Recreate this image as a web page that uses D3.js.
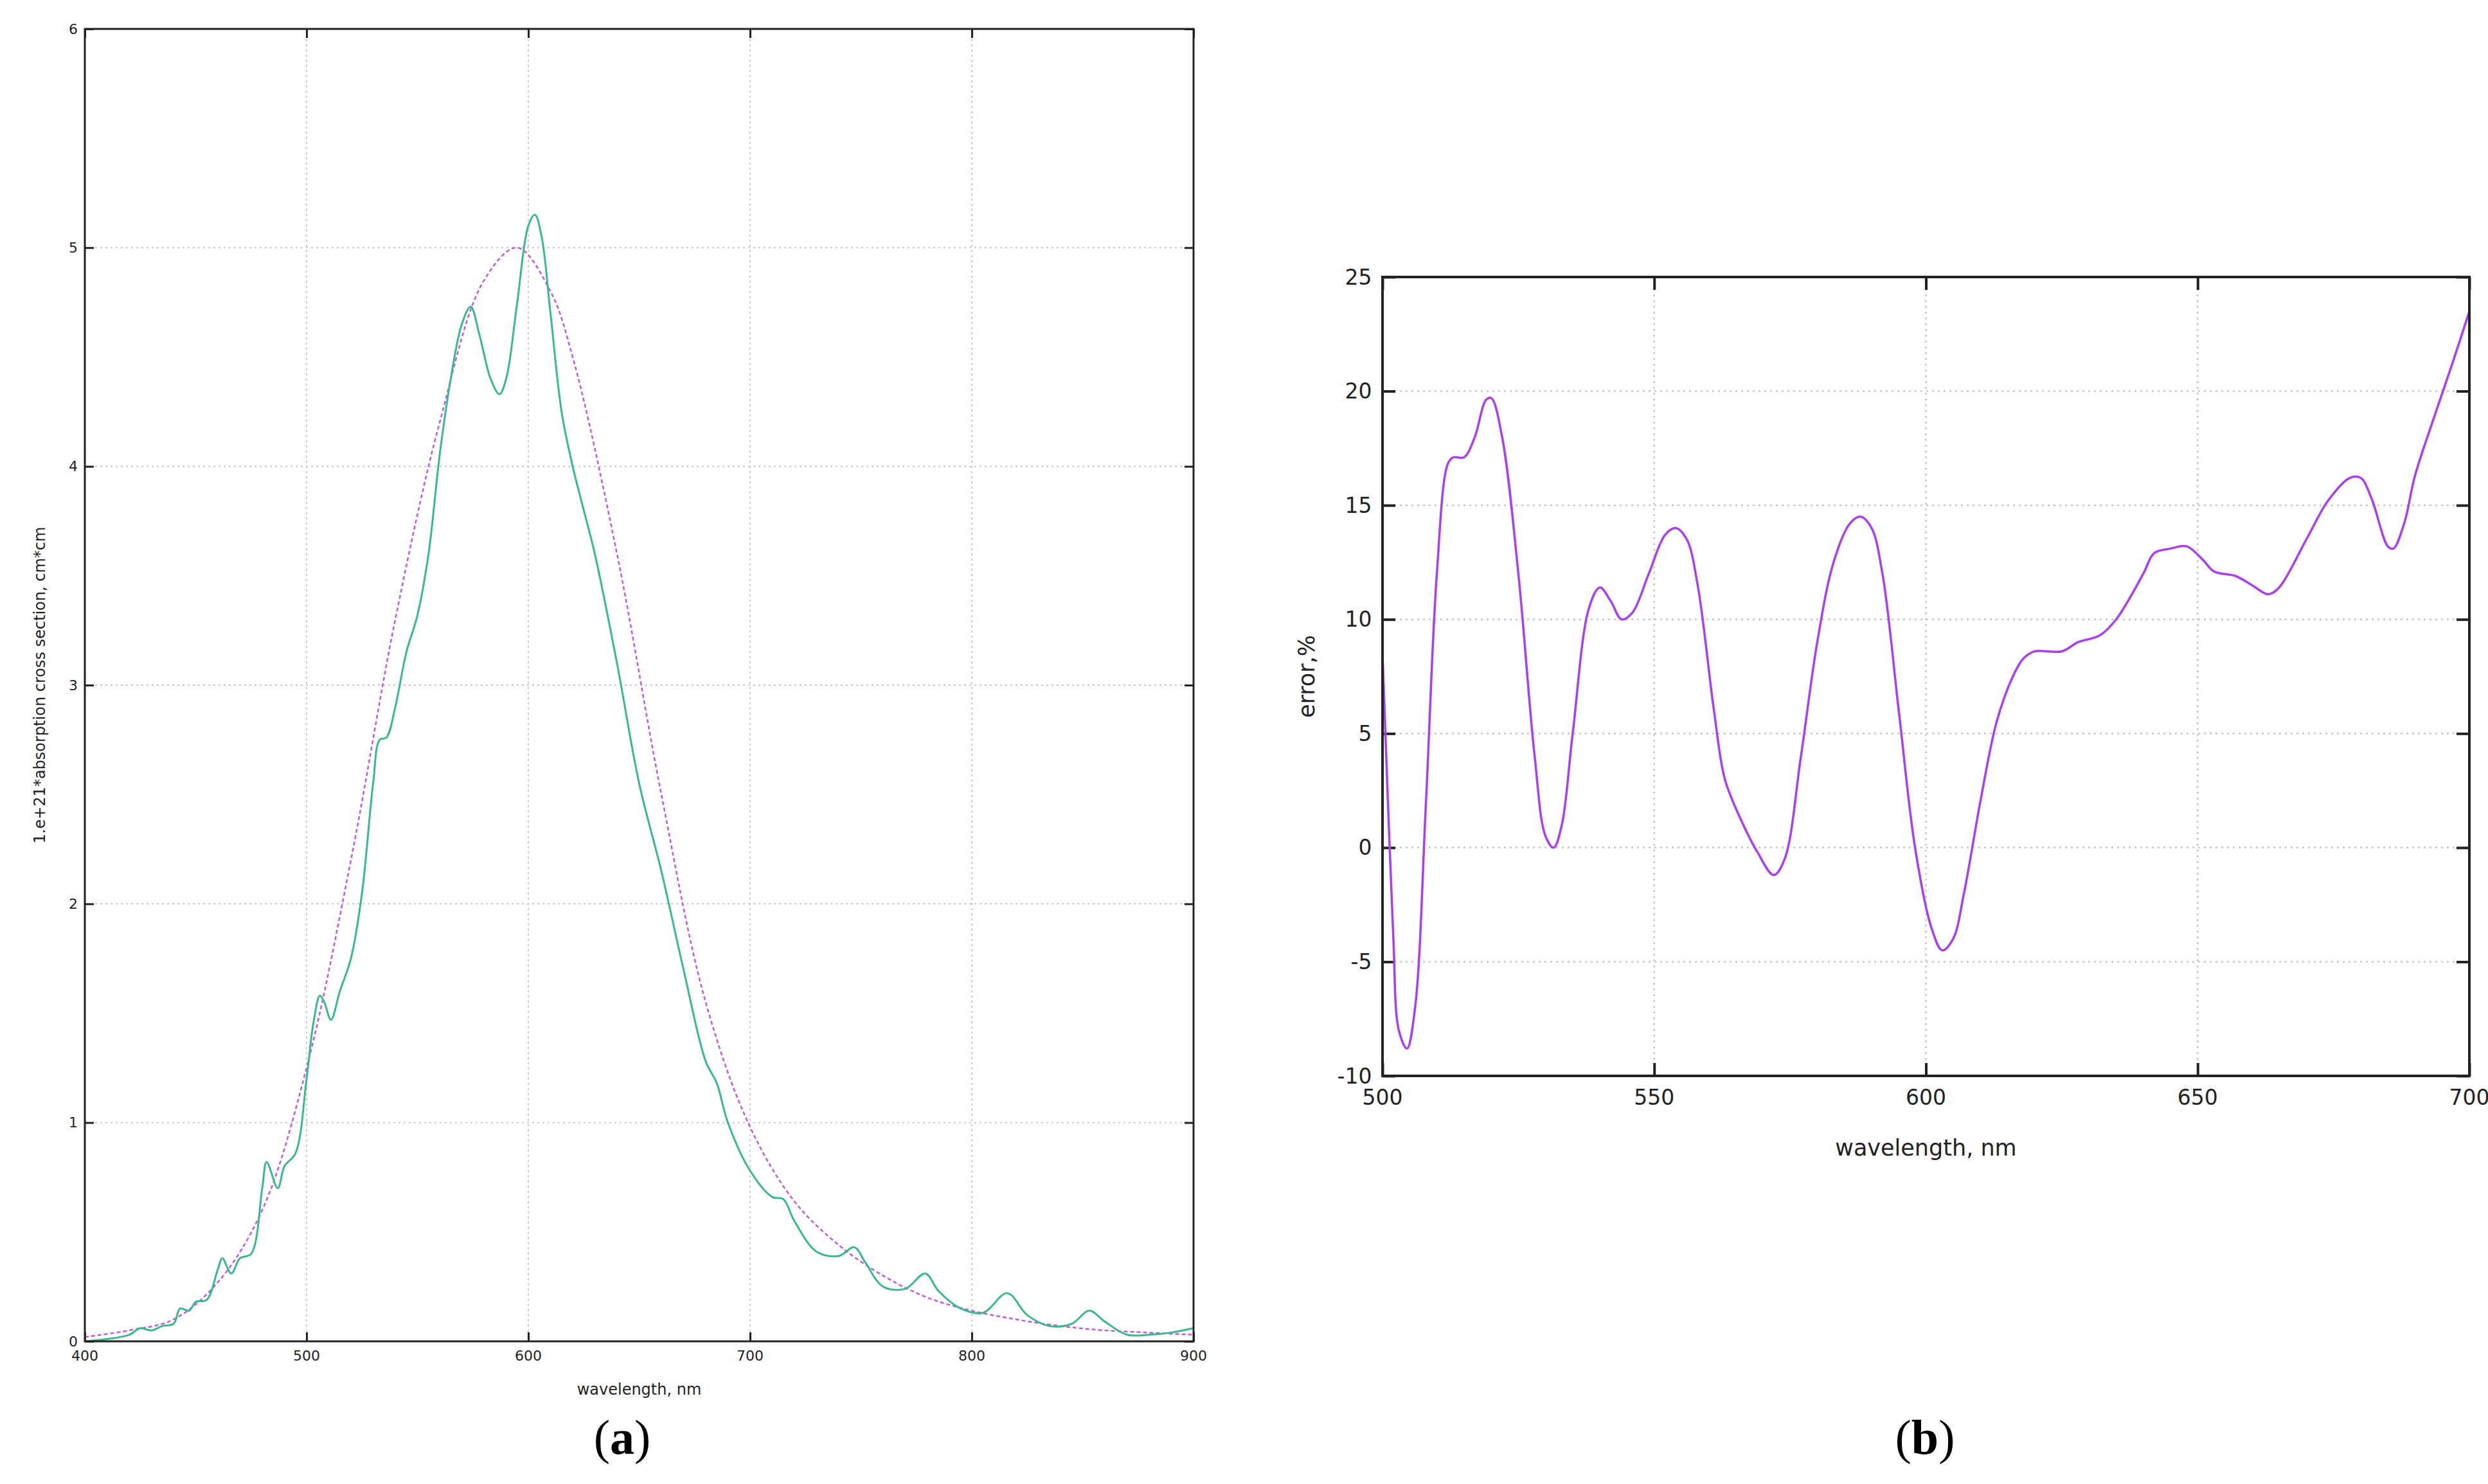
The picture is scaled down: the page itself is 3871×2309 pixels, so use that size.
<!DOCTYPE html>
<html><head><meta charset="utf-8">
<script src="https://cdn.jsdelivr.net/npm/d3@7"></script>
<style>body{margin:0;background:#fff}</style>
</head><body>
<script>
// panel (a): measured cross section and fit
const wlA = [400,410,420,425,430,435,440,443,447,450,455,460,462,466,470,475,480,482,487,490,495,500,503,506,508,511,515,520,525,530,533,536,540,545,550,555,560,565,570,574,578,583,587,590,595,600,603,606,610,615,620,625,630,640,650,660,670,680,685,690,700,710,715,720,730,740,747,752,760,770,779,785,795,805,816,825,835,845,853,860,870,880,890,900];
const sigA = [0.0,0.01,0.03,0.06,0.05,0.07,0.08,0.15,0.14,0.18,0.19,0.33,0.38,0.31,0.38,0.40,0.70,0.82,0.70,0.80,0.86,1.20,1.45,1.58,1.55,1.47,1.60,1.75,2.05,2.55,2.75,2.76,2.90,3.15,3.32,3.60,4.05,4.40,4.65,4.73,4.60,4.40,4.33,4.40,4.75,5.10,5.15,5.05,4.70,4.25,4.00,3.80,3.60,3.10,2.55,2.15,1.70,1.28,1.18,1.00,0.78,0.66,0.65,0.55,0.41,0.39,0.43,0.36,0.25,0.24,0.31,0.23,0.15,0.13,0.22,0.12,0.07,0.08,0.14,0.09,0.03,0.03,0.04,0.06];
const wlFit = [400,420,440,460,480,500,520,540,560,580,595,610,620,640,660,680,700,720,740,760,780,800,820,840,860,880,900];
const sigFit = [0.02,0.05,0.10,0.27,0.60,1.25,2.20,3.30,4.20,4.85,5.00,4.80,4.50,3.60,2.50,1.55,0.98,0.64,0.44,0.30,0.20,0.14,0.10,0.07,0.05,0.04,0.03];
const ticksAx = [400,500,600,700,800,900];
const ticksAy = [0,1,2,3,4,5,6];

// panel (b): relative error
const wlB = [500,501,502,503,504.5,506,508,510,512,513,515,517,519,520,522,525,528,530,531.5,533,535,538,540,542,544,546,549,552,554,556,558,561,563,566,569,572,574,577,580,583,586,588,590,592,595,598,601,603,605,607,610,613,616,618,620,625,628,632,635,640,642,645,648,651,653,657,660,663,665,670,674,678,680,682,685,686,688,690,693,697,700];
const errB = [8.5,2,-4,-8,-8.8,-7,2,12,16.8,17.1,17.1,18,19.6,19.7,18,12,4,0.5,0,1,5,10.5,11.4,10.8,10,10.3,12,13.7,14,13.5,11.5,6,3,1.2,-0.2,-1.2,-0.5,4,9,12.5,14.2,14.5,14,12,6,0,-3.5,-4.5,-4,-2,2,5.5,7.5,8.3,8.6,8.6,9,9.3,10,12,12.9,13.1,13.2,12.6,12.1,11.9,11.5,11.1,11.4,13.5,15.2,16.2,16.2,15.3,13.2,13.1,14.2,16.3,18.5,21.3,23.5];
const ticksBx = [500,550,600,650,700];
const ticksBy = [-10,-5,0,5,10,15,20,25];

const svg = d3.select("body").append("svg").attr("width",3871).attr("height",2309);

function panel(o){
  const x = d3.scaleLinear().domain(o.xd).range([o.l,o.r]);
  const y = d3.scaleLinear().domain(o.yd).range([o.b,o.t]);
  const g = svg.append("g");
  // grid
  g.selectAll(".gx").data(o.tx.slice(1,-1)).join("line")
    .attr("x1",d=>x(d)).attr("x2",d=>x(d)).attr("y1",o.t).attr("y2",o.b)
    .attr("stroke","#c8c8c8").attr("stroke-width",o.gw).attr("stroke-dasharray",o.gd);
  g.selectAll(".gy").data(o.ty.slice(1,-1)).join("line")
    .attr("y1",d=>y(d)).attr("y2",d=>y(d)).attr("x1",o.l).attr("x2",o.r)
    .attr("stroke","#c8c8c8").attr("stroke-width",o.gw).attr("stroke-dasharray",o.gd);
  // inward ticks on all sides
  const tl = o.tl;
  const ax = (gen, tr) => g.append("g").attr("transform",tr)
    .call(gen.tickSizeInner(tl).tickSizeOuter(0).tickFormat(""))
    .call(s=>s.select(".domain").remove())
    .call(s=>s.selectAll("line").attr("stroke","#222").attr("stroke-width",o.lw));
  ax(d3.axisTop(x).tickValues(o.tx), `translate(0,${o.b})`);
  ax(d3.axisBottom(x).tickValues(o.tx), `translate(0,${o.t})`);
  ax(d3.axisRight(y).tickValues(o.ty), `translate(${o.l},0)`);
  ax(d3.axisLeft(y).tickValues(o.ty), `translate(${o.r},0)`);
  // tick labels
  g.selectAll(".lx").data(o.tx).join("text").attr("x",d=>x(d)).attr("y",o.b+o.fs*1.35)
    .attr("text-anchor","middle").attr("font-family","DejaVu Sans").attr("font-size",o.fs)
    .attr("fill","#222").text(d=>d);
  g.selectAll(".ly").data(o.ty).join("text").attr("x",o.l-o.fs*0.5).attr("y",d=>y(d)+o.fs*0.35)
    .attr("text-anchor","end").attr("font-family","DejaVu Sans").attr("font-size",o.fs)
    .attr("fill","#222").text(d=>d);
  // series
  o.series.forEach(s=>{
    g.append("path").datum(d3.zip(s.x,s.y))
      .attr("d",d3.line().x(d=>x(d[0])).y(d=>y(d[1])).curve(d3.curveCatmullRom.alpha(0.5)))
      .attr("fill","none").attr("stroke",s.c).attr("stroke-width",s.w)
      .attr("stroke-dasharray",s.dash||null);
  });
  // frame
  g.append("rect").attr("x",o.l).attr("y",o.t).attr("width",o.r-o.l).attr("height",o.b-o.t)
    .attr("fill","none").attr("stroke","#222").attr("stroke-width",o.lw);
  // axis titles
  g.append("text").attr("x",(o.l+o.r)/2).attr("y",o.xly).attr("text-anchor","middle")
    .attr("font-family","DejaVu Sans").attr("font-size",o.lfs).attr("fill","#222").text(o.xl);
  g.append("text").attr("transform",`translate(${o.ylx},${(o.t+o.b)/2}) rotate(-90)`)
    .attr("text-anchor","middle").attr("font-family","DejaVu Sans").attr("font-size",o.lfs)
    .attr("fill","#222").text(o.yl);
  svg.append("text").attr("x",o.capx).attr("y",2262).attr("text-anchor","middle")
    .attr("font-family","Liberation Serif").attr("font-size",76).attr("fill","#000")
    .html(o.cap);
}

panel({l:132,r:1857,t:45,b:2087,xd:[400,900],yd:[0,6],tx:ticksAx,ty:ticksAy,
  fs:22,lfs:24,lw:3,tl:14,gw:2,gd:"3,5",xl:"wavelength, nm",xly:2170,
  yl:"1.e+21*absorption cross section, cm*cm",ylx:70,capx:968,
  cap:'(<tspan font-weight="bold">a</tspan>)',
  series:[{x:wlFit,y:sigFit,c:"#b85ee0",w:2.5,dash:"6,4"},{x:wlA,y:sigA,c:"#3cb88e",w:3}]});

panel({l:2151,r:3842,t:431,b:1674,xd:[500,700],yd:[-10,25],tx:ticksBx,ty:ticksBy,
  fs:33,lfs:35,lw:4,tl:20,gw:2.5,gd:"3,6",xl:"wavelength, nm",xly:1798,
  yl:"error,%",ylx:2045,capx:2995,
  cap:'(<tspan font-weight="bold">b</tspan>)',
  series:[{x:wlB,y:errB,c:"#a93ff0",w:3.5}]});
</script>
</body></html>
